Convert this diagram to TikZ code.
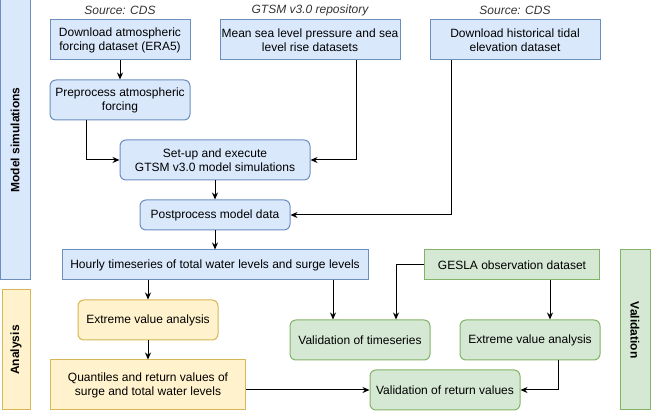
\documentclass[tikz,border=0pt]{standalone}
\usepackage{fontspec}
\setmainfont{Liberation Sans}
\usetikzlibrary{arrows.meta}
\definecolor{bluefill}{HTML}{DAE8FC}
\definecolor{blueline}{HTML}{6C8EBF}
\definecolor{yellowfill}{HTML}{FFF2CC}
\definecolor{yellowline}{HTML}{D6B656}
\definecolor{greenfill}{HTML}{D5E8D4}
\definecolor{greenline}{HTML}{82B366}

\begin{document}
\begin{tikzpicture}[x=1pt,y=-1pt,
  font=\fontsize{12}{14}\selectfont,
  box/.style={line width=1pt, inner sep=0pt, align=center},
  bluebox/.style={box, draw=blueline, fill=bluefill},
  yellowbox/.style={box, draw=yellowline, fill=yellowfill},
  greenbox/.style={box, draw=greenline, fill=greenfill},
  soft/.style={rounded corners=6pt},
  source/.style={font=\fontsize{12}{14}\selectfont\itshape, text=black!80},
  arr/.style={-{Stealth[length=7pt,width=6pt]}, line width=1pt}]
\useasboundingbox (0,0) rectangle (651,411);
% phase bars
\node[bluebox, minimum width=30pt, minimum height=280pt] (barmodel) at (15,140) {};
\node[rotate=90, font=\fontsize{12}{14}\selectfont\bfseries] (barmodeltext) at (barmodel) {Model simulations};
\node[yellowbox, minimum width=28pt, minimum height=120pt] (baranalysis) at (16,350) {};
\node[rotate=90, font=\fontsize{12}{14}\selectfont\bfseries] (baranalysistext) at (baranalysis) {Analysis};
\node[greenbox, minimum width=30pt, minimum height=160pt] (barvalid) at (635,330) {};
\node[rotate=-90, font=\fontsize{12}{14}\selectfont\bfseries] (barvalidtext) at (barvalid) {Validation};
% sources
\node[source] (srcatm) at (120,10) {Source: CDS};
\node[source] (srcgtsm) at (310,10) {GTSM v3.0 repository};
\node[source] (srctide) at (515,10) {Source: CDS};
% model simulations
\node[bluebox, minimum width=140pt, minimum height=40pt] (dlatm) at (120,40) {Download atmospheric\\forcing dataset (ERA5)};
\node[bluebox, minimum width=180pt, minimum height=40pt] (msl) at (310,40) {Mean sea level pressure and sea\\level rise datasets};
\node[bluebox, minimum width=170pt, minimum height=40pt] (tide) at (515,40) {Download historical tidal\\elevation dataset};
\node[bluebox, soft, minimum width=140pt, minimum height=40pt] (prep) at (120,100) {Preprocess atmospheric\\forcing};
\node[bluebox, soft, minimum width=190pt, minimum height=40pt] (setup) at (215,160) {Set-up and execute\\GTSM v3.0 model simulations};
\node[bluebox, soft, minimum width=150pt, minimum height=30pt] (post) at (215,215) {Postprocess model data};
\node[bluebox, minimum width=306pt, minimum height=30pt] (hourly) at (215,265) {Hourly timeseries of total water levels and surge levels};
% analysis
\node[yellowbox, soft, minimum width=140pt, minimum height=40pt] (yeva) at (148,320) {Extreme value analysis};
\node[yellowbox, minimum width=195pt, minimum height=50pt] (quant) at (148,385) {Quantiles and return values of\\surge and total water levels};
% validation
\node[greenbox, minimum width=175pt, minimum height=30pt] (gesla) at (512,265) {GESLA observation dataset};
\node[greenbox, soft, minimum width=140pt, minimum height=40pt] (valts) at (360,340) {Validation of timeseries};
\node[greenbox, soft, minimum width=140pt, minimum height=40pt] (geva) at (530,340) {Extreme value analysis};
\node[greenbox, soft, minimum width=150pt, minimum height=40pt] (retv) at (445,390) {Validation of return values};
% connectors
\draw[arr] (dlatm) -- (prep);
\draw[arr] ([xshift=-34pt]prep.south) |- (setup.west);
\draw[arr] ([xshift=46pt]msl.south) |- (setup.east);
\draw[arr] (setup) -- (post);
\draw[arr] ([xshift=-64pt]tide.south) |- (post.east);
\draw[arr] (post) -- (hourly);
\draw[arr] (hourly.south -| yeva.north) -- (yeva.north);
\draw[arr] (yeva) -- (quant);
\draw[arr] ([xshift=-27pt]valts.north |- hourly.south) -- ([xshift=-27pt]valts.north);
\draw[arr] (gesla.west) -| ([xshift=36pt]valts.north);
\draw[arr] ([xshift=20pt]geva.north |- gesla.south) -- ([xshift=20pt]geva.north);
\draw[arr] ([xshift=28pt]geva.south) |- (retv.east);
\draw[arr] (quant.east |- retv.west) -- (retv.west);
\end{tikzpicture}
\end{document}
